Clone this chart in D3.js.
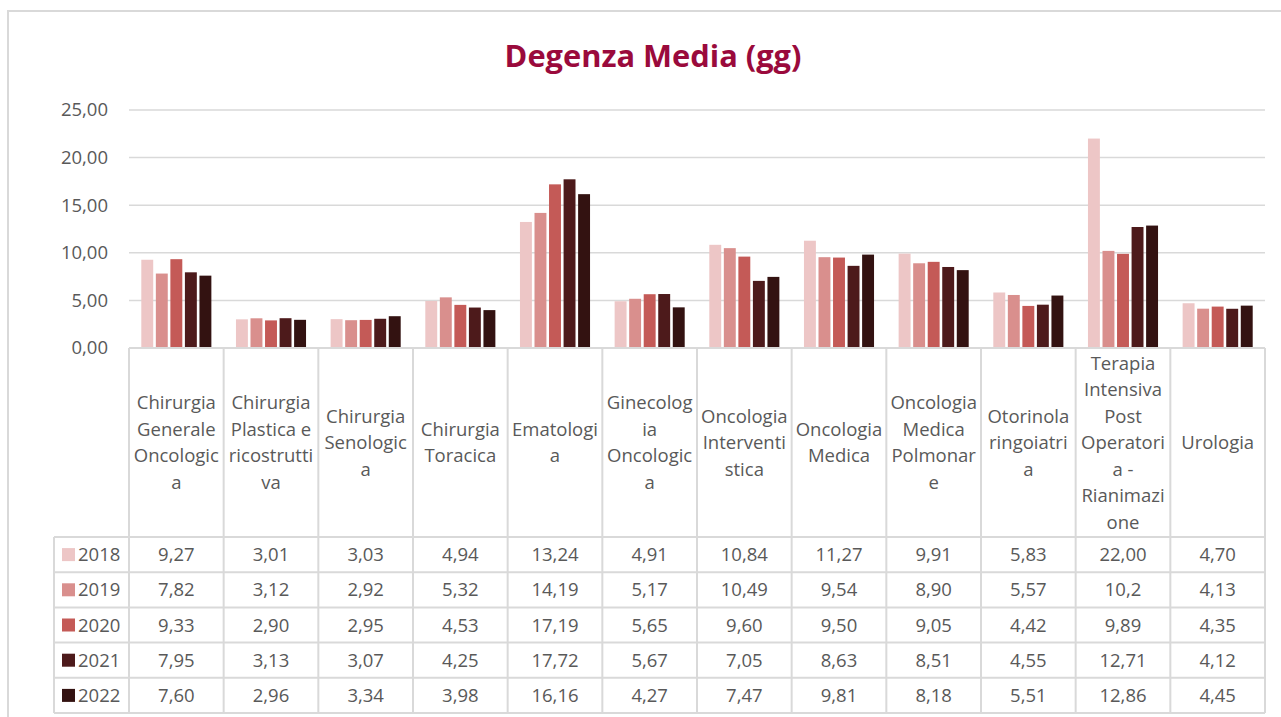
<!DOCTYPE html>
<html lang="it">
<head>
<meta charset="utf-8">
<title>Degenza Media (gg)</title>
<script src="https://cdn.jsdelivr.net/npm/d3@7"></script>
<style>
  body { margin: 0; background: #fff; }
  svg { display: block; font-family: "Open Sans", "Noto Sans", sans-serif; }
  text { fill: #595959; }
</style>
</head>
<body>
<svg id="chart" width="1281" height="717"></svg>
<script>
var categorie = [
  {nome: ["Chirurgia", "Generale", "Oncologic", "a"],       v: ["9,27", "7,82", "9,33", "7,95", "7,60"]},
  {nome: ["Chirurgia", "Plastica e", "ricostrutti", "va"],  v: ["3,01", "3,12", "2,90", "3,13", "2,96"]},
  {nome: ["Chirurgia", "Senologic", "a"],                   v: ["3,03", "2,92", "2,95", "3,07", "3,34"]},
  {nome: ["Chirurgia", "Toracica"],                         v: ["4,94", "5,32", "4,53", "4,25", "3,98"]},
  {nome: ["Ematologi", "a"],                                v: ["13,24", "14,19", "17,19", "17,72", "16,16"]},
  {nome: ["Ginecolog", "ia", "Oncologic", "a"],             v: ["4,91", "5,17", "5,65", "5,67", "4,27"]},
  {nome: ["Oncologia", "Interventi", "stica"],              v: ["10,84", "10,49", "9,60", "7,05", "7,47"]},
  {nome: ["Oncologia", "Medica"],                           v: ["11,27", "9,54", "9,50", "8,63", "9,81"]},
  {nome: ["Oncologia", "Medica", "Polmonar", "e"],          v: ["9,91", "8,90", "9,05", "8,51", "8,18"]},
  {nome: ["Otorinola", "ringoiatri", "a"],                  v: ["5,83", "5,57", "4,42", "4,55", "5,51"]},
  {nome: ["Terapia", "Intensiva", "Post", "Operatori", "a -", "Rianimazi", "one"], v: ["22,00", "10,2", "9,89", "12,71", "12,86"]},
  {nome: ["Urologia"],                                      v: ["4,70", "4,13", "4,35", "4,12", "4,45"]}
];
var anni = ["2018", "2019", "2020", "2021", "2022"];
var colori = ["#EDC6C6", "#D98F8D", "#C45A57", "#4D1A1B", "#331211"];

function num(s) { return +s.replace(",", "."); }

var svg = d3.select("#chart");
var grid = "#D9D9D9";
var fs = "18.5px";

// cornice esterna
svg.append("rect")
  .attr("x", 8).attr("y", 11).attr("width", 1300).attr("height", 730)
  .attr("fill", "none").attr("stroke", grid).attr("stroke-width", 2);

var plotL = 129, plotR = 1265, plotT = 110, base = 348;
var legL = 54, headBottom = 537, rowH = 35.2;

var x0 = d3.scaleBand().domain(d3.range(categorie.length)).range([plotL, plotR]);
var bw = x0.bandwidth();
var x1 = d3.scaleBand().domain(d3.range(anni.length)).range([12.3, bw - 12.3]).paddingInner(0.18);
var y = d3.scaleLinear().domain([0, 25]).range([base, plotT]);

// griglia e asse y
var yAxis = d3.axisLeft(y).tickValues(d3.range(0, 26, 5))
  .tickFormat(function(d) { return d3.format(".2f")(d).replace(".", ","); })
  .tickSize(0).tickPadding(21);

var ga = svg.append("g").attr("transform", "translate(" + plotL + ",0)").call(yAxis);
ga.attr("font-family", null).attr("font-size", null);
ga.select(".domain").remove();
ga.selectAll("text").style("font-size", fs).attr("fill", "#595959");

svg.append("g").selectAll("line")
  .data(d3.range(5, 26, 5))
  .enter().append("line")
    .attr("x1", plotL).attr("x2", plotR)
    .attr("y1", function(d) { return y(d); })
    .attr("y2", function(d) { return y(d); })
    .attr("stroke", grid).attr("stroke-width", 1.5);

// barre
var gruppi = svg.append("g").selectAll("g")
  .data(categorie)
  .enter().append("g")
    .attr("transform", function(d, i) { return "translate(" + x0(i) + ",0)"; });

gruppi.selectAll("rect")
  .data(function(d) { return d.v.map(function(s, j) { return {j: j, val: num(s)}; }); })
  .enter().append("rect")
    .attr("x", function(d) { return x1(d.j); })
    .attr("width", x1.bandwidth())
    .attr("y", function(d) { return y(d.val); })
    .attr("height", function(d) { return base - y(d.val); })
    .attr("fill", function(d) { return colori[d.j]; });

// tabella dati
var tab = svg.append("g");
var tableBottom = headBottom + rowH * anni.length;

tab.append("line").attr("x1", plotL).attr("x2", plotR).attr("y1", base).attr("y2", base)
  .attr("stroke", grid).attr("stroke-width", 2);

tab.selectAll("line.v")
  .data(d3.range(categorie.length + 1))
  .enter().append("line").attr("class", "v")
    .attr("x1", function(i) { return i < categorie.length ? x0(i) : plotR; })
    .attr("x2", function(i) { return i < categorie.length ? x0(i) : plotR; })
    .attr("y1", base).attr("y2", tableBottom)
    .attr("stroke", grid).attr("stroke-width", 2);

tab.append("line").attr("x1", legL).attr("x2", legL).attr("y1", headBottom).attr("y2", tableBottom)
  .attr("stroke", grid).attr("stroke-width", 2);

tab.selectAll("line.h")
  .data(d3.range(anni.length + 1))
  .enter().append("line").attr("class", "h")
    .attr("x1", legL).attr("x2", plotR)
    .attr("y1", function(i) { return headBottom + i * rowH; })
    .attr("y2", function(i) { return headBottom + i * rowH; })
    .attr("stroke", grid).attr("stroke-width", 2);

// etichette categorie
var lineH = 26.5;
var headMid = (base + headBottom) / 2;
tab.selectAll("text.cat")
  .data(categorie)
  .enter().append("text").attr("class", "cat")
    .attr("text-anchor", "middle")
    .style("font-size", fs)
    .each(function(d, i) {
      var t = d3.select(this);
      var y0 = headMid - (d.nome.length - 1) * lineH / 2 + 6.5;
      d.nome.forEach(function(r, k) {
        t.append("tspan").attr("x", x0(i) + bw / 2).attr("y", y0 + k * lineH).text(r);
      });
    });

// righe: legenda + valori
anni.forEach(function(a, j) {
  var cy = headBottom + j * rowH + rowH / 2;
  tab.append("rect").attr("x", 62).attr("y", cy - 6.5).attr("width", 13).attr("height", 13)
    .attr("fill", colori[j]);
  tab.append("text").attr("x", 78).attr("y", cy + 6.5).style("font-size", fs).text(a);
  categorie.forEach(function(c, i) {
    tab.append("text").attr("x", x0(i) + bw / 2).attr("y", cy + 6.5)
      .attr("text-anchor", "middle").style("font-size", fs).text(c.v[j]);
  });
});

// titolo
var titolo = svg.append("text")
  .attr("x", 653).attr("y", 67)
  .attr("text-anchor", "middle")
  .style("font-size", "31px").style("font-weight", "bold")
  .style("fill", "#9A0A3C")
  .text("Degenza Media (gg)");
var w = titolo.node().getComputedTextLength();
titolo.style("font-size", (31 * 297 / w).toFixed(1) + "px");
</script>
</body>
</html>
